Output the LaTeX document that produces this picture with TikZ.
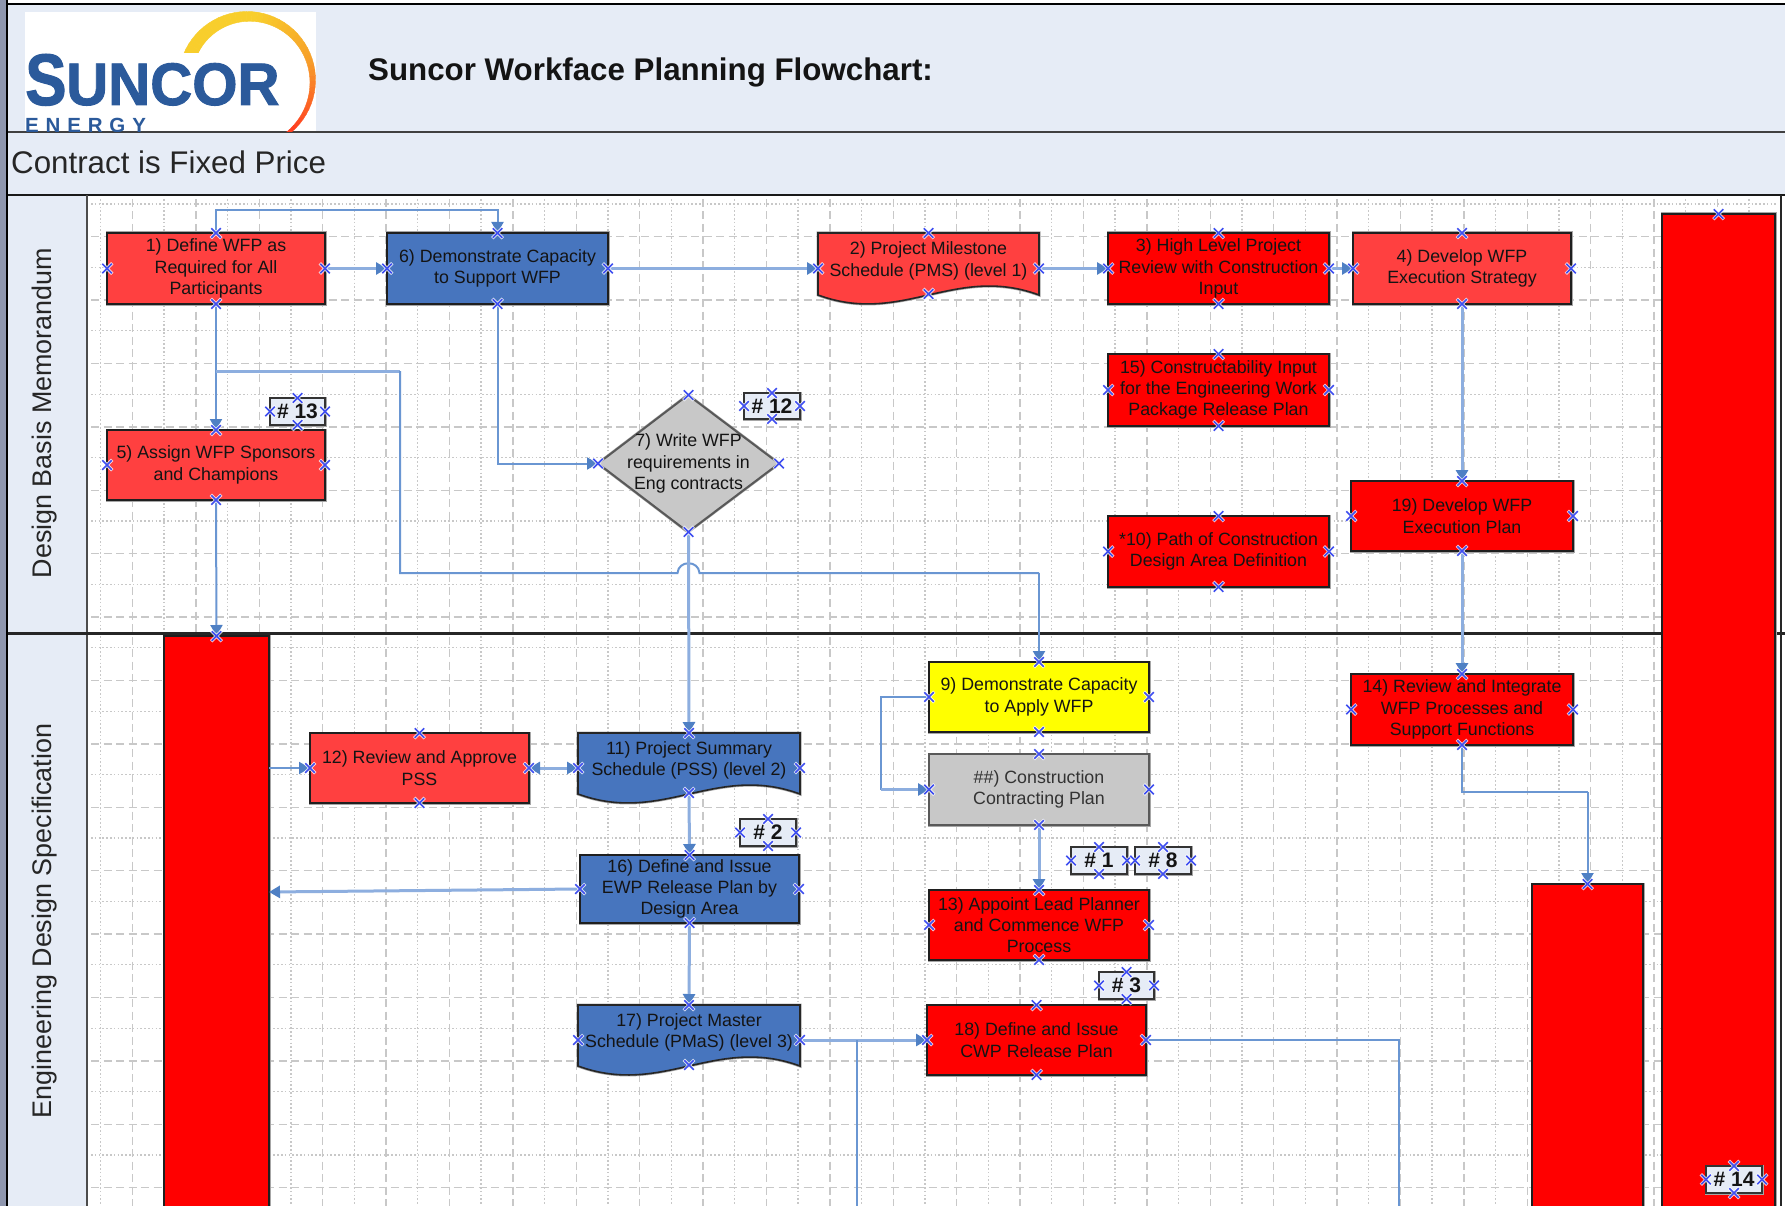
\documentclass[tikz,border=0pt]{standalone}
\usepackage{fontspec}
\setmainfont{Liberation Sans}
\usetikzlibrary{calc,arrows.meta,shapes.misc}
\definecolor{band}{HTML}{E6ECF6}
\definecolor{wire}{HTML}{6A96D2}
\definecolor{wirefat}{HTML}{8DAEDF}
\definecolor{tip}{HTML}{4F80C4}
\definecolor{mred}{HTML}{FF0000}
\definecolor{lred}{HTML}{FF4040}
\definecolor{mblue}{HTML}{4775BE}
\definecolor{mgray}{HTML}{C8C8C8}
\definecolor{myellow}{HTML}{FFFF00}
\definecolor{logoblue}{HTML}{2B5A9B}
\definecolor{gridc}{HTML}{C8C8C8}
\definecolor{markc}{HTML}{3F4FF0}
\definecolor{barc}{HTML}{8E96AE}
\definecolor{suna}{HTML}{F8CE2C}
\definecolor{sunb}{HTML}{F7A02A}
\definecolor{sunc}{HTML}{FF4020}
\tikzset{
  boxbase/.style={rectangle,inner sep=0pt,outer sep=0pt,align=center,text=black!92,
    font=\fontsize{17.8}{21.3}\selectfont},
  halo/.style={preaction={draw=black!35,line width=3pt}},
  redbox/.style={boxbase,draw=black!88,line width=1.6pt,fill=mred,halo},
  lredbox/.style={boxbase,draw=black!88,line width=1.6pt,fill=lred,halo},
  bluebox/.style={boxbase,draw=black!88,line width=1.6pt,fill=mblue,halo},
  yellowbox/.style={boxbase,draw=black!88,line width=1.6pt,fill=myellow,halo},
  graybox/.style={boxbase,draw=black!65,line width=2pt,fill=mgray,text=black!80,halo},
  plainbox/.style={boxbase},
  tagbox/.style={boxbase,draw=black!80,line width=1.4pt,fill=band,halo,
    font=\fontsize{21}{24}\bfseries\selectfont},
  shapeline/.style={draw=black!85,line width=1.6pt,halo},
  conn/.style={draw=wire,line width=2pt},
  fat/.style={draw=wirefat,line width=3pt},
  arr/.style={conn,-{Triangle[length=11pt,width=12pt,color=tip]}},
  dbl/.style={conn,{Triangle[length=11pt,width=12pt,color=tip]}-{Triangle[length=11pt,width=12pt,color=tip]}},
  xb/.style={cross out,draw=markc,line width=1.5pt,minimum size=9.5pt,inner sep=0pt,outer sep=0pt},
  xw/.style={cross out,draw=white,line width=3.2pt,minimum size=10.5pt,inner sep=0pt,outer sep=0pt,opacity=.8},
  lanelabel/.style={rotate=90,inner sep=0pt,text=black!85,font=\fontsize{26.9}{30}\selectfont},
  griddash/.style={draw=gridc,line width=1.3pt,dash pattern=on 8pt off 4.5pt},
  griddot/.style={draw=gridc,line width=1.3pt,dash pattern=on 1.6pt off 2.2pt}
}
\newcommand\bx[7]{\node[#6,minimum width={(#4-#2)*1pt},minimum height={(#5-#3)*1pt}] (#1) at ({(#2+#4)/2},{(#3+#5)/2}) {#7};}
% wave-bottomed document: drawn shape, rectangular anchor node, separate text, lower anchor
\newcommand\docbx[7]{%
  \path[shapeline,fill=#6] (#2,#3) -- (#4,#3) -- (#4,{#5-9})
    .. controls ({#2+0.62*(#4-#2)},{#5-9-31}) and ({#2+0.38*(#4-#2)},{#5-9+31}) .. (#2,{#5-9}) -- cycle;
  \node[plainbox,minimum width={(#4-#2)*1pt},minimum height={(#5-#3)*1pt}] (#1) at ({(#2+#4)/2},{(#3+#5)/2}) {};
  \node[plainbox,yshift=7.5pt] (#1-t) at (#1.center) {#7};
  \coordinate (#1-b) at ($(#1.south)+(0,-10)$);}
\newcommand\xm[2]{\node[xw] (w#1) at (#2) {};\node[xb] (m#1) at (#2) {};}
\newcommand\xmall[1]{\xm{#1n}{#1.north}\xm{#1e}{#1.east}\xm{#1s}{#1.south}\xm{#1o}{#1.west}}
\newcommand\xmdoc[1]{\xm{#1n}{#1.north}\xm{#1e}{#1.east}\xm{#1s}{#1-b}\xm{#1o}{#1.west}}
\begin{document}
\begin{tikzpicture}[x=1pt,y=-1pt]
\clip (0,0) rectangle (1785,1206);
\fill[white] (0,0) rectangle (1785,1206);
% bands
\fill[band] (8,4) rectangle (1785,195);
\fill[band] (8,195) rectangle (87,1206);
% grid
\foreach \k in {0,...,26}{
  \draw[griddash] ({132.5+63.4*\k},199) -- ({132.5+63.4*\k},1206);
  \draw[griddot] ({100.7+63.4*\k},199) -- ({100.7+63.4*\k},1206);}
\foreach \k in {0,...,15}{
  \draw[griddash] (91,{236.7+63.4*\k}) -- (1778,{236.7+63.4*\k});
  \draw[griddot] (91,{204+63.4*\k}) -- (1778,{204+63.4*\k});}
% frame
\fill[barc] (0,0) rectangle (5.5,1206);
\draw[black,line width=2.4pt] (7,0) -- (7,1206);
\draw[black,line width=2pt] (6,4.5) -- (1785,4.5);
\draw[black!75,line width=2pt] (8,132) -- (1785,132);
\draw[black!90,line width=2.2pt] (8,195) -- (1785,195);
\draw[black!70,line width=2pt] (87,195) -- (87,1206);
\draw[black!85,line width=3pt] (8,633.5) -- (1785,633.5);
\draw[black!85,line width=2pt] (1781,195) -- (1781,1206);
% logo
\fill[white] (25,12) rectangle (315.5,131.5);
\begin{scope}
\clip (25,12) rectangle (316,131.5);
\foreach \i in {0,...,43}{
  \pgfmathsetmacro{\ta}{\i/44}
  \pgfmathsetmacro{\tb}{(\i+1)/44}
  \pgfmathsetmacro{\aa}{158-\ta*212}
  \pgfmathsetmacro{\ab}{158-\tb*212}
  \pgfmathsetmacro{\ra}{68.5-13*(1-\ta)-3*\ta}
  \pgfmathsetmacro{\rb}{68.5-13*(1-\tb)-3*\tb}
  \pgfmathsetmacro{\mixa}{100*min(1,max(0,(\ta-0.35)/0.3))}
  \pgfmathsetmacro{\mixb}{100*min(1,max(0,(\ta-0.65)/0.3))}
  \colorlet{sunx}{sunb!\mixa!suna}
  \colorlet{suny}{sunc!\mixb!sunx}
  \fill[suny,draw=suny,line width=.4pt]
    ({247+68.5*cos(\aa)},{80-68.5*sin(\aa)}) -- ({247+68.5*cos(\ab)},{80-68.5*sin(\ab)})
    -- ({247+\rb*cos(\ab)},{80-\rb*sin(\ab)}) -- ({247+\ra*cos(\aa)},{80-\ra*sin(\aa)}) -- cycle;
}
\fill[white] (180,53.5) rectangle (215,66);
\node[anchor=base west,inner sep=0pt,text=logoblue] (logoE) at (25,133) {\fontsize{20.5}{24}\bfseries\selectfont E\,\,N\,\,E\,\,R\,\,G\,\,Y};
\end{scope}
\node[anchor=base west,inner sep=0pt,text=logoblue] (logoS) at (25,105) {\fontsize{73}{75}\bfseries\addfontfeature{FakeBold=1.5}\selectfont\scalebox{.85}[1]{S}};
\node[anchor=base west,inner sep=0pt,text=logoblue] (logoU) at (66,105) {\fontsize{60}{62}\bfseries\addfontfeature{FakeBold=1.5}\selectfont\scalebox{.97}[1]{UNCOR}};
% header texts
\node[anchor=west,inner sep=0pt,text=black!92] (title) at (368,72) {\fontsize{31.3}{34}\bfseries\selectfont Suncor Workface Planning Flowchart:};
\node[anchor=west,inner sep=0pt,text=black!85] (contract) at (11,162) {\fontsize{31.3}{34}\selectfont Contract is Fixed Price};
\node[lanelabel] (lane1) at (45,413) {Design Basis Memorandum};
\node[lanelabel] (lane2) at (45,921) {Engineering Design Specification};
% big bars
\bx{bigR}{1662}{214}{1775}{1300}{redbox}{}
\bx{bigL}{164}{636}{269}{1300}{redbox}{}
\bx{bigM}{1532}{884}{1643}{1300}{redbox}{}
% boxes
\bx{n1}{107}{233}{325}{304}{lredbox}{1) Define WFP as\\Required for All\\Participants}
\bx{n6}{387}{233}{608}{304}{bluebox}{6) Demonstrate Capacity\\to Support WFP}
\docbx{n2}{818}{233}{1039}{304}{lred}{2) Project Milestone\\Schedule (PMS) (level 1)}
\bx{n3}{1108}{233}{1329}{304}{redbox}{3) High Level Project\\Review with Construction\\Input}
\bx{n4}{1353}{233}{1571}{304}{lredbox}{4) Develop WFP\\Execution Strategy}
\bx{n15}{1108}{354}{1329}{426}{redbox}{15) Constructability Input\\for the Engineering Work\\Package Release Plan}
\bx{n10}{1108}{516}{1329}{587}{redbox}{*10) Path of Construction\\Design Area Definition}
\bx{n19}{1351}{481}{1573}{551}{redbox}{19) Develop WFP\\Execution Plan}
\bx{n5}{107}{430}{325}{500}{lredbox}{5) Assign WFP Sponsors\\and Champions}
% diamond
\path[draw=black!65,line width=2pt,halo,fill=mgray] (688,395) -- (779,463.5) -- (688,532) -- (598,463.5) -- cycle;
\bx{n7}{598}{395}{779}{532}{plainbox}{7) Write WFP\\requirements in\\Eng contracts}
\bx{n14}{1351}{674}{1573}{745}{redbox}{14) Review and Integrate\\WFP Processes and\\Support Functions}
\bx{n12}{310}{733}{529}{803}{lredbox}{12) Review and Approve\\PSS}
\docbx{n11}{578}{733}{800}{803}{mblue}{11) Project Summary\\Schedule (PSS) (level 2)}
\bx{n16}{580}{855}{799}{923}{bluebox}{16) Define and Issue\\EWP Release Plan by\\Design Area}
\docbx{n17}{578}{1005}{800}{1075}{mblue}{17) Project Master\\Schedule (PMaS) (level 3)}
\bx{n9}{929}{662}{1149}{732}{yellowbox}{9) Demonstrate Capacity\\to Apply WFP}
\bx{nC}{929}{754}{1149}{825}{graybox}{\#\#) Construction\\Contracting Plan}
\bx{n13}{929}{890}{1149}{960}{redbox}{13) Appoint Lead Planner\\and Commence WFP\\Process}
\bx{n18}{927}{1005}{1146}{1075}{redbox}{18) Define and Issue\\CWP Release Plan}
% tags
\bx{t13}{270}{398}{325}{425}{tagbox}{\# 13}
\bx{t12}{744}{393}{800}{419}{tagbox}{\# 12}
\bx{t2}{740}{819}{796}{846}{tagbox}{\# 2}
\bx{t1}{1071}{847}{1127}{874}{tagbox}{\# 1}
\bx{t8}{1135}{847}{1191}{874}{tagbox}{\# 8}
\bx{t3}{1099}{972}{1154}{999}{tagbox}{\# 3}
\bx{t14}{1706}{1166}{1762}{1193}{tagbox}{\# 14}
% routing points
\coordinate (rtop) at (0,210);
\coordinate (rbr) at (0,371);
\coordinate (rv) at (400,0);
\coordinate (rj) at (0,573);
\coordinate (r9) at (881,0);
\coordinate (r14) at (0,792);
\coordinate (rbot) at (0,1206);
\coordinate (rb17) at (857,0);
\coordinate (rb18) at (1399,0);
% connectors
\draw[arr] (n1.north) -- (n1.north |- rtop) -- (n6.north |- rtop) -- (n6.north);
\draw[arr,fat] (n1.east) -- (n6.west);
\draw[arr] (n1.south) -- (n5.north);
\draw[conn,fat] (n1.south |- rbr) -- (rv |- rbr);
\draw[conn] (rv |- rbr) -- (rv |- rj) -- ($(n7.south |- rj)+(-11,0)$)
  .. controls ($(n7.south |- rj)+(-10,-13)$) and ($(n7.south |- rj)+(10,-13)$) .. ($(n7.south |- rj)+(11,0)$)
  -- (n9.north |- rj);
\draw[arr] (n9.north |- rj) -- (n9.north);
\draw[arr] (n5.south) -- (bigL.north);
\draw[arr] (n6.south) |- (n7.west);
\draw[arr,fat] (n6.east) -- (n2.west);
\draw[arr,fat] (n2.east) -- (n3.west);
\draw[arr,fat] (n3.east) -- (n4.west);
\draw[arr,fat] (n4.south) -- (n19.north);
\draw[arr,fat] (n19.south) -- (n14.north);
\draw[conn] (n14.south) -- (n14.south |- r14) -- (bigM.north |- r14);
\draw[arr] (bigM.north |- r14) -- (bigM.north);
\draw[arr,fat] (n7.south) -- (n11.north);
\draw[arr] (n12.west -| bigL.east) -- (n12.west);
\draw[dbl,fat] (n12.east) -- (n11.west);
\draw[arr,fat] (n11-b) -- (n16.north);
\draw[arr,fat] (n16.south) -- (n17.north);
\draw[arr,fat] (n16.west) -- ($(n16.west -| bigL.east)+(0,3)$);
\draw[arr,fat] (n17.east) -- (n18.west);
\draw[conn] (rb17 |- rbot) -- (rb17 |- n17.east);
\draw[conn] (n18.east) -- (rb18 |- n18.east) -- (rb18 |- rbot);
\draw[conn] (n9.west) -- (r9 |- n9.west) -- (r9 |- nC.west);
\draw[arr,fat] (r9 |- nC.west) -- (nC.west);
\draw[arr,fat] (nC.south) -- (n13.north);
% connection marks
\xm{bigRn}{bigR.north}\xm{bigLn}{bigL.north}\xm{bigMn}{bigM.north}
\xmall{n1}\xmall{n6}\xmall{n3}\xmall{n4}\xmall{n15}\xmall{n10}\xmall{n19}\xmall{n5}
\xmall{n7}\xmall{n14}\xmall{n12}\xmall{n16}\xmall{n9}\xmall{nC}\xmall{n13}\xmall{n18}
\xmdoc{n2}\xmdoc{n11}\xmdoc{n17}
\xmall{t13}\xmall{t12}\xmall{t2}\xmall{t1}\xmall{t8}\xmall{t3}\xmall{t14}
\end{tikzpicture}
\end{document}
